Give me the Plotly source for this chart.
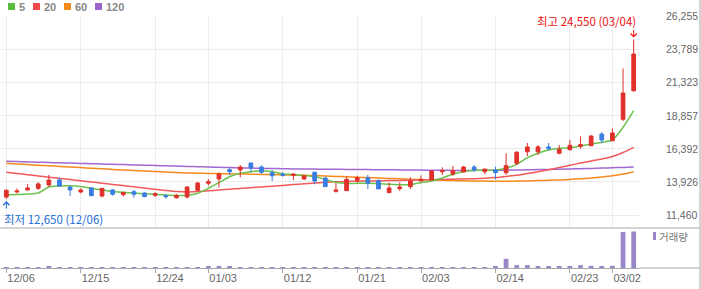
import plotly.graph_objects as go

# ---------------- data ----------------
dates = ["12/06", "12/07", "12/08", "12/09", "12/10", "12/13", "12/14", "12/15", "12/16", "12/17",
         "12/20", "12/21", "12/22", "12/23", "12/24", "12/27", "12/28", "12/29", "12/30",
         "01/03", "01/04", "01/05", "01/06", "01/07", "01/10", "01/11", "01/12", "01/13", "01/14",
         "01/17", "01/18", "01/19", "01/20", "01/21", "01/24", "01/25", "01/26", "01/27", "01/28",
         "02/03", "02/04", "02/07", "02/08", "02/09", "02/10", "02/11", "02/14", "02/15", "02/16",
         "02/17", "02/18", "02/21", "02/22", "02/23", "02/24", "02/25", "02/28",
         "03/02", "03/03", "03/04"]

open_ = [12800, 13180, 13330, 13450, 13700, 14070, 13550, 13180, 13480, 12880,
         13330, 12980, 13200, 13100, 12930, 12900, 12750, 12800, 13300,
         13830, 14150, 14840, 14820, 15340, 15040, 14620, 14500, 14420, 14150,
         14650, 14220, 13230, 13280, 14050, 14240, 14020, 13130, 13430, 13580,
         14000, 14070, 14690, 14520, 14670, 15040, 14690, 14820, 14620, 15320,
         16180, 16180, 16540, 16070, 16330, 16590, 16630, 17500,
         17000, 18600, 20730]
high = [13400, 13450, 13770, 13920, 14450, 14280, 13680, 13450, 13530, 13460,
        13400, 13200, 13330, 13160, 13160, 13030, 13030, 13620, 13920,
        14150, 14620, 14950, 15190, 15350, 15170, 14820, 14670, 14600, 14450,
        14670, 14320, 13870, 14320, 14390, 14450, 14120, 13900, 13900, 14280,
        14420, 14820, 15020, 15120, 15120, 15190, 14900, 15070, 16070, 16240,
        16830, 16680, 16830, 16680, 17060, 17330, 17430, 17650,
        17930, 22400, 24550]
low = [12650, 13080, 13300, 13330, 13580, 13580, 12880, 13080, 12880, 12780,
       12900, 12830, 12750, 12790, 12790, 12680, 12680, 12700, 13300,
       13650, 13500, 14420, 14270, 14650, 14540, 14000, 14320, 14070, 14070,
       13750, 13570, 13130, 13270, 13870, 13400, 13390, 13120, 13250, 13400,
       13990, 14060, 14450, 14390, 14660, 14690, 14500, 14120, 14470, 15190,
       15860, 15940, 16240, 15990, 16290, 16410, 16620, 16810,
       16990, 18470, 20660]
close = [13300, 13250, 13480, 13780, 14070, 13620, 13330, 13330, 12900, 13450,
         13010, 13130, 13010, 12830, 13050, 12830, 12930, 13550, 13850,
         13950, 14520, 14690, 15040, 14950, 14650, 14390, 14420, 14500, 14390,
         14000, 13580, 13330, 14120, 14240, 13830, 13410, 13480, 13550, 14000,
         14120, 14740, 14770, 14770, 15040, 14820, 14890, 14620, 15140, 16140,
         16540, 16540, 16410, 16360, 16660, 16710, 17350, 17060,
         17580, 20560, 23470]
volume = [110000, 90000, 95000, 100000, 120000, 105000, 40000, 35000, 45000, 40000,
          95000, 90000, 100000, 95000, 40000, 35000, 90000, 110000, 100000,
          120000, 240000, 230000, 110000, 105000, 100000, 110000, 45000, 95000, 40000,
          45000, 100000, 40000, 105000, 110000, 45000, 40000, 45000, 100000, 105000,
          50000, 100000, 110000, 105000, 100000, 50000, 45000, 120000, 1050000, 330000,
          340000, 220000, 200000, 210000, 200000, 330000, 250000, 240000,
          250000, 4150000, 4200000]

ma5 = [12954, 12991, 13029, 13103, 13551, 13625, 13648, 13588, 13454, 13327,
       13215, 13155, 13103, 13043, 13006, 12954, 12917, 12932, 13081,
       13454, 13872, 14319, 14573, 14692, 14767, 14692, 14520, 14483, 14409,
       14319, 14125, 13901, 13812, 13827, 13827, 13812, 13752, 13723, 13723,
       13872, 13998, 14222, 14498, 14692, 14797, 14797, 14819, 14946, 15244,
       15736, 16065, 16311, 16438, 16482, 16610, 16759, 16886,
       17057, 18004, 19243]
ma20 = [14647, 14558, 14468, 14371, 14282, 14192, 14103, 14013, 13924, 13834,
        13745, 13655, 13566, 13476, 13379, 13290, 13215, 13178, 13215,
        13267, 13327, 13387, 13446, 13499, 13551, 13610, 13670, 13730, 13790,
        13849, 13901, 13939, 13961, 13983, 13998, 14013, 14028, 14043, 14058,
        14073, 14095, 14118, 14133, 14148, 14170, 14200, 14252, 14334, 14431,
        14550, 14685, 14834, 14998, 15170, 15341, 15490, 15640,
        15826, 16124, 16512]
ma60 = [15319, 15267, 15222, 15177, 15132, 15088, 15043, 14998, 14953, 14909,
        14864, 14819, 14774, 14737, 14700, 14662, 14632, 14603, 14580,
        14565, 14550, 14536, 14521, 14506, 14491, 14476, 14461, 14446, 14424,
        14401, 14371, 14342, 14312, 14282, 14252, 14222, 14192, 14163, 14133,
        14103, 14073, 14051, 14028, 14013, 13998, 13991, 13983, 13983, 13991,
        14006, 14028, 14051, 14080, 14118, 14163, 14222, 14297,
        14386, 14513, 14670]
ma120 = [15468, 15446, 15423, 15401, 15378, 15356, 15334, 15311, 15289, 15267,
         15244, 15222, 15199, 15177, 15155, 15132, 15110, 15088, 15065,
         15043, 15020, 14998, 14976, 14961, 14946, 14931, 14916, 14901, 14894,
         14886, 14879, 14871, 14864, 14856, 14849, 14841, 14834, 14826, 14819,
         14812, 14804, 14797, 14789, 14789, 14789, 14797, 14804, 14812, 14819,
         14834, 14849, 14864, 14879, 14894, 14916, 14938, 14961,
         14983, 15013, 15043]

y_ticks = [11460, 13926, 16392, 18857, 21323, 23789, 26255]
x_ticks = ["12/06", "12/15", "12/24", "01/03", "01/12", "01/21", "02/03", "02/14", "02/23", "03/02"]
ma_names = ["5", "20", "60", "120"]

# ---------------- style ----------------
RED = "#e0302a"
BLUE = "#3a7de0"
MA_COLORS = ["#6cc24e", "#f05a5a", "#f58a1f", "#a368cf"]
LEG_COLORS = ["#5cbd3c", "#ee4848", "#f5891c", "#9b62cc"]
VOL_COLOR = "#9a87c9"
GRID = "#ececec"
FRAME = "#a8a8a8"
TXT = "#666666"

W, H = 701, 289
ML, MR, MT, MB = 1, 62, 16, 21
PW, PH = W - ML - MR, H - MT - MB
VOL_H = 40
split = VOL_H / PH


def px(x):
    return (x - ML) / PW


def py(y):
    return (H - MB - y) / PH


fig = go.Figure()

for vals, col in zip([ma120, ma60, ma20, ma5], MA_COLORS[::-1]):
    fig.add_trace(go.Scatter(x=dates, y=vals, mode="lines",
                             line=dict(color=col, width=1.5, shape="spline", smoothing=0.6),
                             xaxis="x", yaxis="y", hoverinfo="skip"))

fig.add_trace(go.Candlestick(
    x=dates, open=open_, high=high, low=low, close=close,
    increasing=dict(line=dict(color=RED, width=1), fillcolor=RED),
    decreasing=dict(line=dict(color=BLUE, width=1), fillcolor=BLUE),
    whiskerwidth=0, xaxis="x", yaxis="y3", hoverinfo="skip"))

fig.add_trace(go.Bar(x=dates, y=volume, marker=dict(color=VOL_COLOR, line=dict(width=0)),
                     xaxis="x2", yaxis="y2", hoverinfo="skip"))

prange = [10492, 26307]

fig.update_layout(
    width=W, height=H, margin=dict(l=ML, r=MR, t=MT, b=MB),
    paper_bgcolor="white", plot_bgcolor="white",
    showlegend=False, hovermode=False, boxgap=0.5, bargap=0.55,
    xaxis=dict(type="category", categoryorder="array", categoryarray=dates,
               range=[-0.5, len(dates) - 0.5], domain=[0, 1], anchor="y",
               tickvals=x_ticks, showticklabels=False, ticks="",
               showgrid=True, gridcolor=GRID, gridwidth=1, zeroline=False,
               showline=False, rangeslider=dict(visible=False), fixedrange=True),
    xaxis2=dict(type="category", categoryorder="array", categoryarray=dates,
                range=[-0.5, len(dates) - 0.5], domain=[0, 1], anchor="y2", matches="x",
                tickvals=x_ticks, ticktext=x_ticks, ticks="outside", ticklen=4,
                tickcolor=FRAME, showline=True, linecolor=FRAME, linewidth=1,
                showgrid=False, zeroline=False, ticklabelposition="outside right",
                tickfont=dict(family="Liberation Sans", size=11, color=TXT),
                rangeslider=dict(visible=False), fixedrange=True),
    yaxis=dict(domain=[split, 1], anchor="x", side="right", range=prange,
               tickvals=y_ticks, tickformat=",d", showgrid=True, gridcolor=GRID,
               zeroline=False, showline=False, ticks="", ticklabelstandoff=26,
               tickfont=dict(family="Liberation Sans", size=10.5, color=TXT),
               fixedrange=True),
    yaxis3=dict(overlaying="y", anchor="x", side="right", range=prange,
                visible=False, showgrid=False, zeroline=False, fixedrange=True),
    yaxis2=dict(domain=[0, split], anchor="x2", range=[0, max(volume) * 1.095],
                showticklabels=False, showgrid=False, zeroline=False, ticks="",
                fixedrange=True),
)

shapes = []
# frame lines
shapes.append(dict(type="line", xref="paper", yref="paper", x0=px(0), x1=px(700),
                   y0=split, y1=split, line=dict(color=FRAME, width=1)))
shapes.append(dict(type="line", xref="paper", yref="paper", x0=px(639), x1=px(700),
                   y0=0, y1=0, line=dict(color=FRAME, width=1)))
shapes.append(dict(type="line", xref="paper", yref="paper", x0=px(700), x1=px(700),
                   y0=py(289), y1=py(0), line=dict(color=FRAME, width=1)))

annotations = []
# MA legend
leg_sq_x = [8, 33, 64, 95]
for name, col, sx in zip(ma_names, LEG_COLORS, leg_sq_x):
    shapes.append(dict(type="rect", xref="paper", yref="paper",
                       x0=px(sx), x1=px(sx + 7), y0=py(10), y1=py(3),
                       fillcolor=col, line=dict(width=0)))
    annotations.append(dict(xref="paper", yref="paper", x=px(sx + 9), y=py(6.8),
                            xanchor="left", yanchor="middle", showarrow=False, text=name,
                            font=dict(family="Liberation Sans", size=11, color="#888888",
                                      weight="bold")))

# volume legend
shapes.append(dict(type="rect", xref="paper", yref="paper",
                   x0=px(653), x1=px(656), y0=py(240), y1=py(232),
                   fillcolor=VOL_COLOR, line=dict(width=0)))
annotations.append(dict(xref="paper", yref="paper", x=px(657), y=py(236),
                        xanchor="left", yanchor="middle", showarrow=False, text="거래량",
                        font=dict(family="Noto Sans CJK KR", size=10.5, color="#777777")))

# high / low markers
i_hi = max(range(len(high)), key=lambda i: high[i])
i_lo = min(range(len(low)), key=lambda i: low[i])
HI_COL = "#ee1111"
LO_COL = "#1f6fd6"
annotations.append(dict(xref="x", yref="y", x=dates[i_hi], y=high[i_hi], text="",
                        showarrow=True, ax=0, ay=-11, arrowhead=4, arrowsize=1.2,
                        arrowwidth=1, arrowcolor=HI_COL, standoff=2))
annotations.append(dict(xref="x", yref="y", x=dates[i_hi], y=high[i_hi],
                        text=f"최고 {high[i_hi]:,} ({dates[i_hi]})", showarrow=False,
                        xanchor="right", yanchor="bottom", xshift=4, yshift=9,
                        font=dict(family="Noto Sans CJK KR", size=11.5, color=HI_COL)))
annotations.append(dict(xref="x", yref="y", x=dates[i_lo], y=low[i_lo], text="",
                        showarrow=True, ax=0, ay=11, arrowhead=4, arrowsize=1.2,
                        arrowwidth=1, arrowcolor=LO_COL, standoff=2))
annotations.append(dict(xref="x", yref="y", x=dates[i_lo], y=low[i_lo],
                        text=f"최저 {low[i_lo]:,} ({dates[i_lo]})", showarrow=False,
                        xanchor="left", yanchor="top", xshift=-4, yshift=-10,
                        font=dict(family="Noto Sans CJK KR", size=11.5, color=LO_COL)))

fig.update_layout(shapes=shapes, annotations=annotations)

fig.write_html("out.html")
